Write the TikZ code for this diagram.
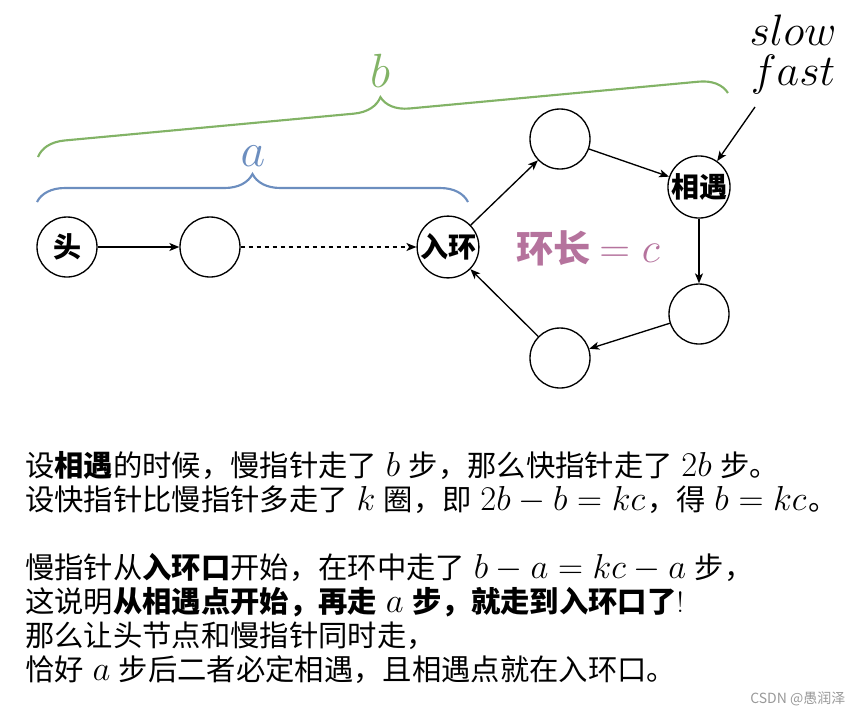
\RequirePackage{fix-cm}
\documentclass[tikz,border=0pt]{standalone}
\usepackage{amsmath}
\usepackage{fontspec}
\usepackage{xcolor}
\usetikzlibrary{arrows.meta,decorations.pathreplacing}
\newfontfamily\cjk{Noto Sans CJK SC}
\definecolor{bracegreen}{HTML}{82B366}
\definecolor{braceblue}{HTML}{6C8EBF}
\definecolor{ringpink}{HTML}{B5739D}
\newcommand\mth[1]{{\fontsize{26}{26}\selectfont\kern1.5pt$#1$\kern1.5pt}}

\begin{document}
\begin{tikzpicture}[x=0.75pt,y=-0.75pt,
    vert/.style={circle,draw,line width=1pt,minimum size=45pt,inner sep=0pt,
      font=\cjk\bfseries\fontsize{21}{21}\selectfont},
    arr/.style={-{Stealth[length=7.5pt,width=6pt,inset=2pt]},line width=1pt},
    brc/.style={decorate,decoration={brace,amplitude=21pt},line width=1.6pt}]
    \useasboundingbox (0,0) rectangle (853,715);
    % list part
    \node[vert] (head) at (67,247) {头};
    \node[vert] (n1) at (210,247) {};
    \node[vert] (entry) at (448,247) {入环};
    % ring part
    \node[vert] (top) at (560,139) {};
    \node[vert] (meet) at (699,187) {相遇};
    \node[vert] (right) at (699,314) {};
    \node[vert] (bottom) at (560,358) {};
    \draw[arr] (head) -- (n1);
    \draw[arr,dashed] (n1) -- (entry);
    \foreach \u/\v in {entry/top,top/meet,meet/right,right/bottom,bottom/entry}{\draw[arr] (\u) -- (\v);}
    \node[text=ringpink,font=\cjk\bfseries\fontsize{28}{28}\selectfont] (ringlen) at (588,248)
      {环长 {\fontsize{32}{32}\selectfont$= c$}};
    % pointers
    \node[align=center,font=\fontsize{33}{30}\selectfont] (ptr) at (793,54) {$slow$\\$fast$};
    \coordinate (ptrtail) at (755,107);
    \draw[arr] (ptrtail) -- (meet);
    % braces
    \draw[brc,braceblue] (37,202) -- (468,202);
    \node[text=braceblue,font=\fontsize{36}{36}\selectfont,anchor=base] (lbla) at (253,166) {$a$};
    \draw[brc,bracegreen] (38,157) -- (728,93);
    \node[text=bracegreen,font=\fontsize{36}{36}\selectfont,anchor=base] (lblb) at (380,87) {$b$};
    % explanation (base = last line)
    \node[anchor=base west,align=left,inner sep=0pt,font=\cjk\fontsize{22}{25.5}\selectfont] (expl) at (25,680)
      {设\textbf{相遇}的时候，慢指针走了 \mth{b} 步，那么快指针走了 \mth{2b} 步。\\
       设快指针比慢指针多走了 \mth{k} 圈，即 \mth{2b-b=kc}，得 \mth{b=kc}。\\[25.5pt]
       慢指针从\textbf{入环口}开始，在环中走了 \mth{b-a=kc-a} 步，\\
       这说明\textbf{从相遇点开始，再走 \mth{a} 步，就走到入环口了}{\rmfamily\mdseries !}\\
       那么让头节点和慢指针同时走，\\
       恰好 \mth{a} 步后二者必定相遇，且相遇点就在入环口。};
    \node[anchor=base east,text=black!40,font=\cjk\fontsize{10.5}{12}\selectfont] (mark) at (850,703) {CSDN @愚润泽};
\end{tikzpicture}
\end{document}
